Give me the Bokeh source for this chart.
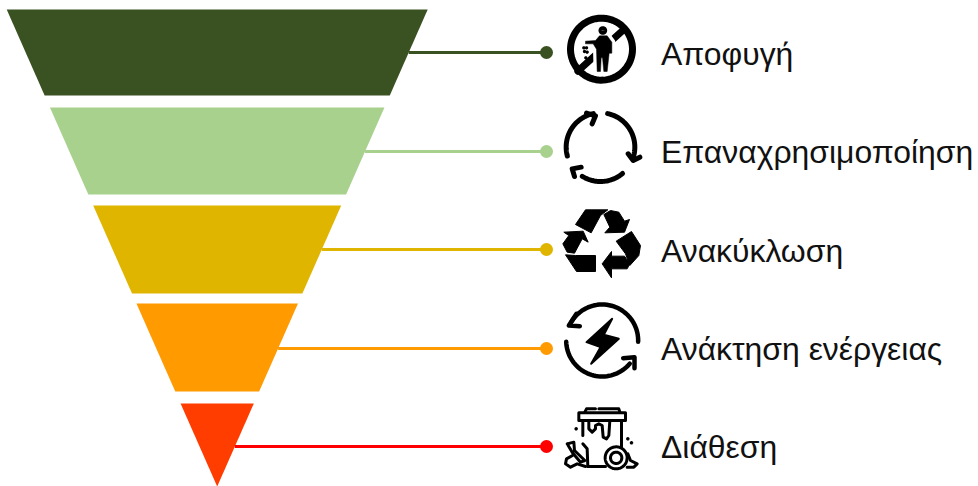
import numpy as np
from bokeh.embed import file_html
from bokeh.resources import INLINE
from bokeh.plotting import figure
from bokeh.core.properties import value

# Waste hierarchy levels, from most to least preferred
labels = ["Αποφυγή", "Επαναχρησιμοποίηση", "Ανακύκλωση", "Ανάκτηση ενέργειας", "Διάθεση"]
band_colors = ["#3A5122", "#A9D18E", "#DFB500", "#FF9A00", "#FF3D00"]
line_colors = ["#3A5122", "#A9D18E", "#DFB500", "#FF9A00", "#FF0000"]
band_tops = [9, 107, 205, 303, 403]
band_bottoms = [95, 194, 293, 391, 486]
connector_y = [52, 151, 249, 348, 446]
label_y = [53, 151, 250, 348, 446]

APEX_X, APEX_Y, TOP_HALF, TOP_Y = 216.7, 486, 210.5, 9
DOT_X, LABEL_X = 546, 660.5
INK = "#000000"
PAPER = "#FFFFFF"

p = figure(width=978, height=486, x_range=(0, 978), y_range=(486, 0),
           output_backend="svg", toolbar_location=None, min_border=0)
p.axis.visible = False
p.grid.visible = False
p.outline_line_color = None
p.background_fill_color = PAPER
p.border_fill_color = PAPER


def half_width(y):
    return (APEX_Y - y) * TOP_HALF / (APEX_Y - TOP_Y)


# Funnel bands and their connectors
for top, bottom, fill, stroke_color, cy in zip(band_tops, band_bottoms, band_colors, line_colors, connector_y):
    ht, hb = half_width(top), half_width(bottom)
    p.patch([APEX_X - ht, APEX_X + ht, APEX_X + hb, APEX_X - hb],
            [top, top, bottom, bottom], fill_color=fill, line_color=None)
    p.line([APEX_X + half_width(cy), DOT_X], [cy, cy], line_color=stroke_color, line_width=3)
    p.scatter([DOT_X], [cy], size=13, fill_color=stroke_color, line_color=None)

p.text([LABEL_X] * 5, label_y, text=labels, text_font=value("Liberation Sans"),
       text_font_size="31.9px", text_color="#111111",
       text_align="left", text_baseline="middle")


def at(ox, oy, pts):
    """Map icon-local points (3 units per pixel) to page coordinates."""
    a = np.asarray(pts, dtype=float)
    return list(ox + a[:, 0] / 3), list(oy + a[:, 1] / 3)


def shape(ox, oy, pts, edge=0.5):
    x, y = at(ox, oy, pts)
    p.patch(x, y, fill_color=INK, line_color=INK, line_width=edge, line_join="round")


def stroke(ox, oy, pts, w, color=INK):
    x, y = at(ox, oy, pts)
    p.line(x, y, line_color=color, line_width=w, line_cap="round", line_join="round")


def arc(cx, cy, r, a0, a1, n=40):
    t = np.radians(np.linspace(a0, a1, n))
    return np.column_stack([cx + r * np.cos(t), cy + r * np.sin(t)])


def ring(ox, oy, cx, cy, r, w, color=INK):
    stroke(ox, oy, arc(cx, cy, r, 0, 360, 80), w, color)


# Icon: no littering
O1 = (550, 0)
ring(*O1, 153, 146, 93, 7)
stroke(*O1, [(222, 85), (82, 212)], 7)
man = [(105, 122), (135, 120), (147, 106), (170, 106), (184, 125), (184, 158), (176, 158),
       (170, 213), (160, 213), (156, 172), (152, 172), (150, 213), (140, 213), (138, 146),
       (128, 130), (105, 130)]
stroke(*O1, man + man[:1], 7, PAPER)
shape(*O1, man, 0.5)
ring(*O1, 157, 90, 7, 4)
for dx, dy in [(100, 142), (108, 142), (102, 153), (110, 155), (106, 172)]:
    ring(*O1, dx, dy, 2, 2)

# Icon: reuse cycle
O2 = (550, 100)
stroke(*O2, arc(150, 140, 103, 165, 258), 5)
stroke(*O2, [(108, 38), (135, 46), (125, 70)], 5)
stroke(*O2, arc(150, 140, 103, 282, 378), 5)
stroke(*O2, [(233, 160), (248, 180), (268, 170)], 5)
stroke(*O2, arc(150, 140, 103, 50, 122), 5)
stroke(*O2, [(92, 200), (65, 205), (72, 228)], 5)

# Icon: recycling symbol
O3 = (550, 200)
for pts in [
    [(75, 72), (105, 28), (172, 28), (150, 45), (122, 97)],
    [(160, 42), (180, 30), (205, 35), (222, 62), (237, 57), (222, 95), (163, 97), (178, 80)],
    [(197, 122), (243, 93), (270, 135), (265, 165), (238, 195), (225, 160)],
    [(155, 190), (183, 153), (183, 167), (222, 167), (238, 190), (230, 205), (183, 205), (183, 232)],
    [(45, 163), (75, 165), (135, 165), (135, 213), (78, 213)],
    [(40, 95), (98, 92), (113, 125), (95, 115), (72, 158), (50, 155), (37, 130), (55, 105)],
]:
    shape(*O3, pts, 1)

# Icon: energy recovery
O4 = (550, 295)
stroke(*O4, arc(155, 135, 108, 2, -148), 4.5)
stroke(*O4, [(78, 55), (55, 90), (88, 92)], 4.5)
stroke(*O4, arc(155, 135, 108, 178, 40), 4.5)
stroke(*O4, [(218, 188), (252, 185), (252, 218)], 4.5)
shape(*O4, [(185, 70), (108, 140), (150, 155), (122, 205), (205, 130), (160, 118)], 2)

# Icon: disposal bin
O5 = (550, 395)
W5 = 3
for pts in [
    [(85, 52), (225, 52), (225, 75), (85, 75), (85, 52)],
    [(103, 50), (108, 40), (135, 40)],
    [(145, 40), (205, 40), (208, 50)],
    [(97, 75), (97, 120)],
    [(97, 145), (110, 160), (112, 213)],
    [(213, 75), (213, 155)],
    [(115, 75), (115, 100), (125, 110), (135, 100), (135, 90), (145, 85), (155, 90), (158, 125),
     (168, 130), (175, 120), (178, 75)],
    [(112, 213), (165, 213)],
    [(50, 145), (70, 140), (72, 165), (103, 195), (90, 200), (66, 172), (50, 145)],
    [(66, 180), (48, 190), (45, 205), (60, 215), (80, 205), (105, 213)],
    [(232, 175), (240, 195), (260, 205), (250, 215), (230, 215)],
]:
    stroke(*O5, pts, W5)
ring(*O5, 197, 187, 33, W5)
ring(*O5, 197, 187, 17, W5)
for dx, dy in [(77, 100), (232, 130), (243, 142)]:
    ring(*O5, dx, dy, 1.5, 2.5)

open("out.html", "w").write(file_html(p, INLINE))
